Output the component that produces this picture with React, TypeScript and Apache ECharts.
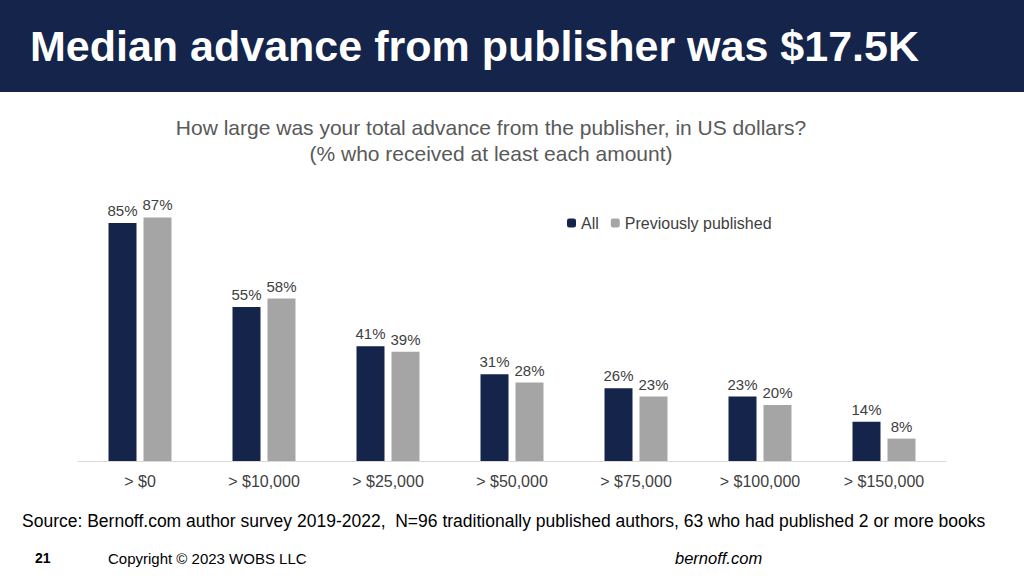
import * as echarts from 'echarts';
import { useEffect, useRef } from 'react';

const categories = ['> $0', '> $10,000', '> $25,000', '> $50,000', '> $75,000', '> $100,000', '> $150,000'];
const allValues = [85, 55, 41, 31, 26, 23, 14];
const prevValues = [87, 58, 39, 28, 23, 20, 8];

const NAVY = '#15244a';
const GRAY = '#a5a5a5';

const App: React.FC = () => {
  const chartRef = useRef<HTMLDivElement>(null);

  useEffect(() => {
    if (!chartRef.current) return;
    const chart = echarts.init(chartRef.current, undefined, { renderer: 'svg' });
    const label = {
      show: true,
      position: 'top' as const,
      formatter: '{c}%',
      color: '#404040',
      fontSize: 15,
      fontFamily: 'Liberation Sans, Arial, sans-serif',
      distance: 5,
    };
    chart.setOption({
      animation: false,
      textStyle: { fontFamily: 'Liberation Sans, Arial, sans-serif' },
      graphic: [
        { type: 'rect', shape: { x: 0, y: 0, width: 1024, height: 92 }, style: { fill: NAVY } },
        {
          type: 'text', x: 30, y: 46,
          style: { text: 'Median advance from publisher was $17.5K', fill: '#fff', fontSize: 43, fontWeight: 'bold', fontFamily: 'Liberation Sans, Arial', verticalAlign: 'middle' },
        },
        {
          type: 'text', x: 491, y: 140,
          style: { text: 'How large was your total advance from the publisher, in US dollars?\n(% who received at least each amount)', fill: '#595959', fontSize: 21, align: 'center', verticalAlign: 'middle', lineHeight: 26 },
        },
        {
          type: 'text', x: 22, y: 521,
          style: { text: 'Source: Bernoff.com author survey 2019-2022,  N=96 traditionally published authors, 63 who had published 2 or more books', fill: '#000', fontSize: 17.5, verticalAlign: 'middle' },
        },
        { type: 'text', x: 35, y: 558, style: { text: '21', fill: '#000', fontSize: 14, fontWeight: 'bold', verticalAlign: 'middle' } },
        { type: 'text', x: 108, y: 558, style: { text: 'Copyright © 2023 WOBS LLC', fill: '#000', fontSize: 15, verticalAlign: 'middle' } },
        { type: 'text', x: 675, y: 558, style: { text: 'bernoff.com', fill: '#000', fontSize: 16.5, fontStyle: 'italic', verticalAlign: 'middle' } },
      ],
      legend: {
        left: 562, top: 210, itemWidth: 9, itemHeight: 9, itemGap: 12,
        textStyle: { color: '#404040', fontSize: 16 },
        data: ['All', 'Previously published'],
      },
      grid: { left: 78, right: 78, top: 181, bottom: 115 },
      xAxis: {
        type: 'category', data: categories,
        axisLine: { lineStyle: { color: '#d9d9d9' } },
        axisTick: { show: false },
        axisLabel: { color: '#404040', fontSize: 16, margin: 12 },
      },
      yAxis: { type: 'value', min: 0, max: 100, show: false, splitLine: { show: false } },
      series: [
        { name: 'All', type: 'bar', data: allValues, barWidth: 28, barGap: '25%', itemStyle: { color: NAVY }, label },
        { name: 'Previously published', type: 'bar', data: prevValues, barWidth: 28, itemStyle: { color: GRAY }, label },
      ],
    });
    return () => chart.dispose();
  }, []);

  return <div ref={chartRef} style={{ width: 1024, height: 576, position: 'absolute', left: 0, top: 0, background: '#fff' }} />;
};

export default App;
